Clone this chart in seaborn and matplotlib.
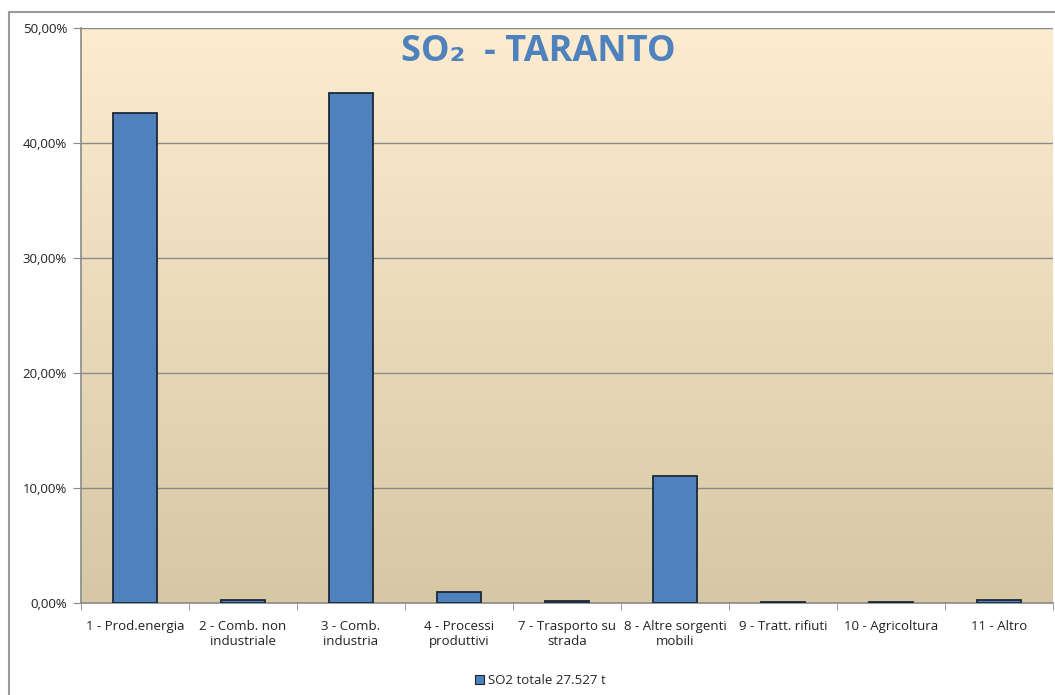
import numpy as np
import pandas as pd
import matplotlib
matplotlib.use("Agg")
import matplotlib.pyplot as plt
import seaborn as sb
from matplotlib.ticker import FuncFormatter, MultipleLocator, FixedLocator
from matplotlib.patches import Rectangle

# dati
categorie = ["1 - Prod.energia", "2 - Comb. non\nindustriale", "3 - Comb.\nindustria",
             "4 - Processi\nproduttivi", "7 - Trasporto su\nstrada", "8 - Altre sorgenti\nmobili",
             "9 - Tratt. rifiuti", "10 - Agricoltura", "11 - Altro"]
valori = [42.62, 0.26, 44.35, 0.96, 0.20, 11.08, 0.10, 0.08, 0.29]
serie = "SO2 totale 27.527 t"
titolo = "SO\u2082  - TARANTO"

sb.set_style("white")
plt.rcParams['font.family'] = ['Open Sans', 'DejaVu Sans']

df = pd.DataFrame({"cat": categorie, "val": valori})

fig = plt.figure(figsize=(10.55, 6.95), dpi=100)
ax = fig.add_axes([0.0768, 0.1324, 0.9212, 0.8273])

# sfondo sfumato
grad = np.linspace(0, 1, 256).reshape(256, 1, 1)
top = np.array([253, 236, 208]) / 255
bot = np.array([214, 200, 164]) / 255
img = top + (bot - top) * grad * np.ones((1, 1, 3))
ax.imshow(img, extent=[0, 1, 0, 1], transform=ax.transAxes, aspect="auto", zorder=0)

sb.barplot(data=df, x="cat", y="val", color="#4F81BD", saturation=1, width=0.41,
           edgecolor="#1c2838", linewidth=1.3, ax=ax, zorder=3)

ax.set_ylim(0, 50)
ax.set_xlim(-0.5, len(categorie) - 0.5)
ax.yaxis.set_major_locator(MultipleLocator(10))
ax.yaxis.set_major_formatter(FuncFormatter(lambda v, p: ("%.2f%%" % v).replace(".", ",")))
ax.grid(axis="y", color="#8a8a8a", linewidth=1.0, zorder=1)
for gl in ax.get_ygridlines():
    gl.set_zorder(1)
ax.set_xlabel("")
ax.set_ylabel("")

for s in ["top", "right"]:
    ax.spines[s].set_visible(False)
for s in ["left", "bottom"]:
    ax.spines[s].set_color("#8a8a8a")
    ax.spines[s].set_linewidth(1.2)

ax.tick_params(axis="y", which="major", left=True, length=6, color="#8a8a8a",
               labelsize=9.5, labelcolor="#222222", pad=4)
ax.tick_params(axis="x", which="major", bottom=False, labelsize=9.5,
               labelcolor="#222222", pad=9)
ax.xaxis.set_minor_locator(FixedLocator(np.arange(-0.5, len(categorie), 1.0)))
ax.tick_params(axis="x", which="minor", bottom=True, length=5, color="#8a8a8a")

ax.text(0.471, 0.958, titolo, transform=ax.transAxes, ha="center", va="center",
        fontsize=26, fontweight="bold", color="#4F81BD")

handle = Rectangle((0, 0), 1, 1, facecolor="#4F81BD", edgecolor="#1c2838", linewidth=0.8)
fig.legend([handle], [serie], loc="center", bbox_to_anchor=(0.512, 0.021), frameon=False,
           fontsize=9.5, handlelength=0.7, handleheight=0.7, handletextpad=0.3)

# cornice esterna
fig.patches.append(Rectangle((9 / 1055, -0.01), 1.2, (695 - 12) / 695 + 0.01,
                             transform=fig.transFigure, fill=False,
                             edgecolor="#9a9a9a", linewidth=1.5, zorder=0))

# etichette su due righe centrate
fig.canvas.draw()
for tick in ax.xaxis.get_major_ticks():
    tick.label1.set_multialignment("center")
    tick.label1.set_horizontalalignment("center")

fig.savefig("out.png", dpi=100)
